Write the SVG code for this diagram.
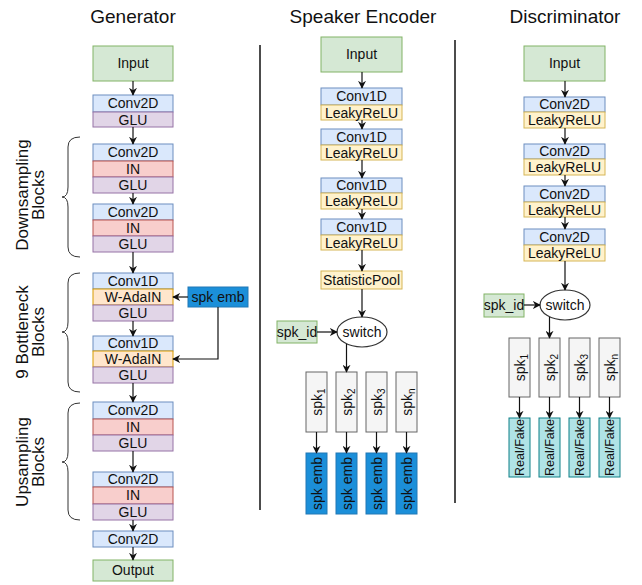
<svg xmlns="http://www.w3.org/2000/svg" width="642" height="585" viewBox="0 0 642 585">
<defs>
<marker id="ah" viewBox="0 0 10 10" refX="9" refY="5" markerWidth="8" markerHeight="8" markerUnits="userSpaceOnUse" orient="auto">
<path d="M0,0 L10,5 L0,10 L3,5 Z" fill="#111"/>
</marker>
<style>
text{font-family:"Liberation Sans",Arial,sans-serif;fill:#111}
.t{font-size:19px;text-anchor:middle}
.b{font-size:14px;text-anchor:middle}
.lbl{font-size:17px;text-anchor:middle}
.g{fill:#d5e8d4;stroke:#82b366}
.c{fill:#dae8fc;stroke:#6c8ebf}
.p{fill:#e1d5e7;stroke:#9673a6}
.r{fill:#f8cecc;stroke:#b85450}
.o{fill:#ffe6cc;stroke:#d79b00}
.y{fill:#fff2cc;stroke:#d6b656}
.s{fill:#f5f5f5;stroke:#666}
.e{fill:#1b8fd9;stroke:#2278b5}
.f{fill:#b0e3e6;stroke:#0e8088}
.ln{fill:none;stroke:#111;stroke-width:1.2}
.ar{fill:none;stroke:#111;stroke-width:1.2;marker-end:url(#ah)}
.br{fill:none;stroke:#333;stroke-width:1}
.dv{stroke:#111;stroke-width:1.5}
</style>
</defs>

<text class="t" x="133" y="23">Generator</text>
<text class="t" x="363" y="23">Speaker Encoder</text>
<text class="t" x="565" y="23">Discriminator</text>

<line class="dv" x1="260" y1="45" x2="260" y2="510"/>
<line class="dv" x1="455" y1="40" x2="455" y2="503"/>

<!-- Generator -->
<g id="gen-input"><rect class="g" x="93" y="46" width="80" height="35"/><text class="b" x="133" y="68">Input</text></g>
<g id="gen-conv0"><rect class="c" x="93" y="95" width="80" height="17"/><text class="b" x="133" y="108">Conv2D</text>
<rect class="p" x="93" y="112" width="80" height="15"/><text class="b" x="133" y="125">GLU</text></g>
<g id="gen-down1"><rect class="c" x="93" y="144" width="80" height="17"/><text class="b" x="133" y="157">Conv2D</text>
<rect class="r" x="93" y="161" width="80" height="16"/><text class="b" x="133" y="174">IN</text>
<rect class="p" x="93" y="177" width="80" height="16"/><text class="b" x="133" y="190">GLU</text></g>
<g id="gen-down2"><rect class="c" x="93" y="204" width="80" height="16"/><text class="b" x="133" y="217">Conv2D</text>
<rect class="r" x="93" y="220" width="80" height="16"/><text class="b" x="133" y="233">IN</text>
<rect class="p" x="93" y="236" width="80" height="16"/><text class="b" x="133" y="249">GLU</text></g>
<g id="gen-bn1"><rect class="c" x="93" y="273" width="80" height="16"/><text class="b" x="133" y="286">Conv1D</text>
<rect class="o" x="93" y="289" width="80" height="16"/><text class="b" x="133" y="302">W-AdaIN</text>
<rect class="p" x="93" y="305" width="80" height="16"/><text class="b" x="133" y="318">GLU</text></g>
<g id="gen-bn2"><rect class="c" x="93" y="336" width="80" height="15"/><text class="b" x="133" y="348">Conv1D</text>
<rect class="o" x="93" y="351" width="80" height="16"/><text class="b" x="133" y="364">W-AdaIN</text>
<rect class="p" x="93" y="367" width="80" height="16"/><text class="b" x="133" y="380">GLU</text></g>
<g id="gen-up1"><rect class="c" x="93" y="402" width="80" height="17"/><text class="b" x="133" y="415">Conv2D</text>
<rect class="r" x="93" y="419" width="80" height="16"/><text class="b" x="133" y="432">IN</text>
<rect class="p" x="93" y="435" width="80" height="16"/><text class="b" x="133" y="448">GLU</text></g>
<g id="gen-up2"><rect class="c" x="93" y="472" width="80" height="15"/><text class="b" x="133" y="484">Conv2D</text>
<rect class="r" x="93" y="487" width="80" height="17"/><text class="b" x="133" y="500">IN</text>
<rect class="p" x="93" y="504" width="80" height="16"/><text class="b" x="133" y="517">GLU</text></g>
<g id="gen-conv-out"><rect class="c" x="93" y="531" width="80" height="16"/><text class="b" x="133" y="544">Conv2D</text></g>
<g id="gen-output"><rect class="g" x="93" y="560" width="80" height="21"/><text class="b" x="133" y="575">Output</text></g>
<g id="gen-spkemb"><rect class="e" x="188" y="287" width="60" height="20"/><text class="b" x="218" y="302">spk emb</text></g>

<g id="gen-braces">
<path class="br" d="M80,137 Q68,137 68,147 L68,187 Q68,197 62,197 Q68,197 68,207 L68,247 Q68,257 80,257"/>
<path class="br" d="M80,273 Q68,273 68,283 L68,322 Q68,332 62,332 Q68,332 68,342 L68,382 Q68,392 80,392"/>
<path class="br" d="M80,403 Q68,403 68,413 L68,452 Q68,462 62,462 Q68,462 68,472 L68,510 Q68,520 80,520"/>
<g transform="translate(30,195) rotate(-90)"><text class="lbl" x="0" y="-2">Downsampling</text><text class="lbl" x="0" y="14">Blocks</text></g>
<g transform="translate(30,332) rotate(-90)"><text class="lbl" x="0" y="-2">9 Bottleneck</text><text class="lbl" x="0" y="14">Blocks</text></g>
<g transform="translate(30,462) rotate(-90)"><text class="lbl" x="0" y="-2">Upsampling</text><text class="lbl" x="0" y="14">Blocks</text></g>
</g>

<!-- Speaker Encoder -->
<g id="se-input"><rect class="g" x="321" y="37" width="81" height="35"/><text class="b" x="361.5" y="59">Input</text></g>
<g id="se-b1"><rect class="c" x="321" y="88" width="81" height="17"/><text class="b" x="361.5" y="101">Conv1D</text>
<rect class="y" x="321" y="105" width="81" height="15"/><text class="b" x="361.5" y="118">LeakyReLU</text></g>
<g id="se-b2"><rect class="c" x="321" y="129" width="81" height="16"/><text class="b" x="361.5" y="142">Conv1D</text>
<rect class="y" x="321" y="145" width="81" height="15"/><text class="b" x="361.5" y="158">LeakyReLU</text></g>
<g id="se-b3"><rect class="c" x="321" y="178" width="81" height="15"/><text class="b" x="361.5" y="190">Conv1D</text>
<rect class="y" x="321" y="193" width="81" height="16"/><text class="b" x="361.5" y="206">LeakyReLU</text></g>
<g id="se-b4"><rect class="c" x="321" y="219" width="81" height="16"/><text class="b" x="361.5" y="232">Conv1D</text>
<rect class="y" x="321" y="235" width="81" height="15"/><text class="b" x="361.5" y="248">LeakyReLU</text></g>
<g id="se-pool"><rect class="y" x="321" y="271" width="81" height="18"/><text class="b" x="361.5" y="285">StatisticPool</text></g>
<g id="se-switch"><ellipse cx="362" cy="332" rx="25" ry="15" fill="#fff" stroke="#333" stroke-width="1.2"/><text class="b" x="362" y="337">switch</text></g>
<g id="se-spkid"><rect class="g" x="277" y="321" width="40" height="22"/><text class="b" x="297" y="337">spk_id</text></g>
<g id="se-spk1"><rect class="s" x="306" y="372" width="21" height="60"/><text class="b" transform="translate(316.5,402) rotate(-90)" x="0" y="5">spk<tspan font-size="10" dy="3">1</tspan></text></g>
<g id="se-spk2"><rect class="s" x="336" y="372" width="21" height="60"/><text class="b" transform="translate(346.5,402) rotate(-90)" x="0" y="5">spk<tspan font-size="10" dy="3">2</tspan></text></g>
<g id="se-spk3"><rect class="s" x="366" y="372" width="21" height="60"/><text class="b" transform="translate(376.5,402) rotate(-90)" x="0" y="5">spk<tspan font-size="10" dy="3">3</tspan></text></g>
<g id="se-spkn"><rect class="s" x="396" y="372" width="21" height="60"/><text class="b" transform="translate(406.5,402) rotate(-90)" x="0" y="5">spk<tspan font-size="10" dy="3">n</tspan></text></g>
<g id="se-emb1"><rect class="e" x="306" y="453" width="21" height="61"/><text class="b" transform="translate(316.5,483.5) rotate(-90)" x="0" y="5">spk emb</text></g>
<g id="se-emb2"><rect class="e" x="336" y="453" width="21" height="61"/><text class="b" transform="translate(346.5,483.5) rotate(-90)" x="0" y="5">spk emb</text></g>
<g id="se-emb3"><rect class="e" x="366" y="453" width="21" height="61"/><text class="b" transform="translate(376.5,483.5) rotate(-90)" x="0" y="5">spk emb</text></g>
<g id="se-embn"><rect class="e" x="396" y="453" width="21" height="61"/><text class="b" transform="translate(406.5,483.5) rotate(-90)" x="0" y="5">spk emb</text></g>

<!-- Discriminator -->
<g id="d-input"><rect class="g" x="524" y="46" width="81" height="35"/><text class="b" x="564.5" y="68">Input</text></g>
<g id="d-b1"><rect class="c" x="524" y="97" width="81" height="15"/><text class="b" x="564.5" y="109">Conv2D</text>
<rect class="y" x="524" y="112" width="81" height="16"/><text class="b" x="564.5" y="125">LeakyReLU</text></g>
<g id="d-b2"><rect class="c" x="524" y="144" width="81" height="15"/><text class="b" x="564.5" y="156">Conv2D</text>
<rect class="y" x="524" y="159" width="81" height="16"/><text class="b" x="564.5" y="172">LeakyReLU</text></g>
<g id="d-b3"><rect class="c" x="524" y="186" width="81" height="16"/><text class="b" x="564.5" y="199">Conv2D</text>
<rect class="y" x="524" y="202" width="81" height="15"/><text class="b" x="564.5" y="215">LeakyReLU</text></g>
<g id="d-b4"><rect class="c" x="524" y="229" width="81" height="16"/><text class="b" x="564.5" y="242">Conv2D</text>
<rect class="y" x="524" y="245" width="81" height="16"/><text class="b" x="564.5" y="258">LeakyReLU</text></g>
<g id="d-switch"><ellipse cx="565" cy="305" rx="25" ry="15" fill="#fff" stroke="#333" stroke-width="1.2"/><text class="b" x="565" y="310">switch</text></g>
<g id="d-spkid"><rect class="g" x="484" y="294" width="40" height="23"/><text class="b" x="504" y="310">spk_id</text></g>
<g id="d-spk1"><rect class="s" x="509" y="338" width="21" height="59"/><text class="b" transform="translate(519.5,367.5) rotate(-90)" x="0" y="5">spk<tspan font-size="10" dy="3">1</tspan></text></g>
<g id="d-spk2"><rect class="s" x="539" y="338" width="21" height="59"/><text class="b" transform="translate(549.5,367.5) rotate(-90)" x="0" y="5">spk<tspan font-size="10" dy="3">2</tspan></text></g>
<g id="d-spk3"><rect class="s" x="569" y="338" width="21" height="59"/><text class="b" transform="translate(579.5,367.5) rotate(-90)" x="0" y="5">spk<tspan font-size="10" dy="3">3</tspan></text></g>
<g id="d-spkn"><rect class="s" x="599" y="338" width="21" height="59"/><text class="b" transform="translate(609.5,367.5) rotate(-90)" x="0" y="5">spk<tspan font-size="10" dy="3">n</tspan></text></g>
<g id="d-rf1"><rect class="f" x="509" y="418" width="21" height="59"/><text class="b" style="font-size:12.5px" transform="translate(519.5,447.5) rotate(-90)" x="0" y="4.5">Real/Fake</text></g>
<g id="d-rf2"><rect class="f" x="539" y="418" width="21" height="59"/><text class="b" style="font-size:12.5px" transform="translate(549.5,447.5) rotate(-90)" x="0" y="4.5">Real/Fake</text></g>
<g id="d-rf3"><rect class="f" x="569" y="418" width="21" height="59"/><text class="b" style="font-size:12.5px" transform="translate(579.5,447.5) rotate(-90)" x="0" y="4.5">Real/Fake</text></g>
<g id="d-rfn"><rect class="f" x="599" y="418" width="21" height="59"/><text class="b" style="font-size:12.5px" transform="translate(609.5,447.5) rotate(-90)" x="0" y="4.5">Real/Fake</text></g>

<!-- Connectors -->
<g id="connectors">
<line class="ar" x1="133" y1="81" x2="133" y2="95"/>
<line class="ar" x1="133" y1="127" x2="133" y2="144"/>
<line class="ar" x1="133" y1="193" x2="133" y2="204"/>
<line class="ar" x1="133" y1="252" x2="133" y2="273"/>
<line class="ar" x1="133" y1="321" x2="133" y2="336"/>
<line class="ar" x1="133" y1="383" x2="133" y2="402"/>
<line class="ar" x1="133" y1="451" x2="133" y2="472"/>
<line class="ar" x1="133" y1="520" x2="133" y2="531"/>
<line class="ar" x1="133" y1="547" x2="133" y2="560"/>
<line class="ar" x1="188" y1="297" x2="173" y2="297"/>
<path class="ar" d="M218,307 L218,359 L173,359"/>

<line class="ar" x1="362" y1="72" x2="362" y2="88"/>
<line class="ar" x1="362" y1="120" x2="362" y2="129"/>
<line class="ar" x1="362" y1="160" x2="362" y2="178"/>
<line class="ar" x1="362" y1="209" x2="362" y2="219"/>
<line class="ar" x1="362" y1="250" x2="362" y2="271"/>
<line class="ar" x1="362" y1="289" x2="362" y2="317"/>
<line class="ar" x1="317" y1="332" x2="337" y2="332"/>
<line class="ar" x1="346.5" y1="344" x2="346.5" y2="372"/>
<line class="ar" x1="316.5" y1="432" x2="316.5" y2="453"/>
<line class="ar" x1="346.5" y1="432" x2="346.5" y2="453"/>
<line class="ar" x1="376.5" y1="432" x2="376.5" y2="453"/>
<line class="ar" x1="406.5" y1="432" x2="406.5" y2="453"/>

<line class="ar" x1="565" y1="81" x2="565" y2="97"/>
<line class="ar" x1="565" y1="128" x2="565" y2="144"/>
<line class="ar" x1="565" y1="175" x2="565" y2="186"/>
<line class="ar" x1="565" y1="217" x2="565" y2="229"/>
<line class="ar" x1="565" y1="261" x2="565" y2="290"/>
<line class="ar" x1="524" y1="305" x2="540" y2="305"/>
<line class="ar" x1="549.5" y1="317" x2="549.5" y2="338"/>
<line class="ar" x1="519.5" y1="397" x2="519.5" y2="418"/>
<line class="ar" x1="549.5" y1="397" x2="549.5" y2="418"/>
<line class="ar" x1="579.5" y1="397" x2="579.5" y2="418"/>
<line class="ar" x1="609.5" y1="397" x2="609.5" y2="418"/>
</g>
</svg>
